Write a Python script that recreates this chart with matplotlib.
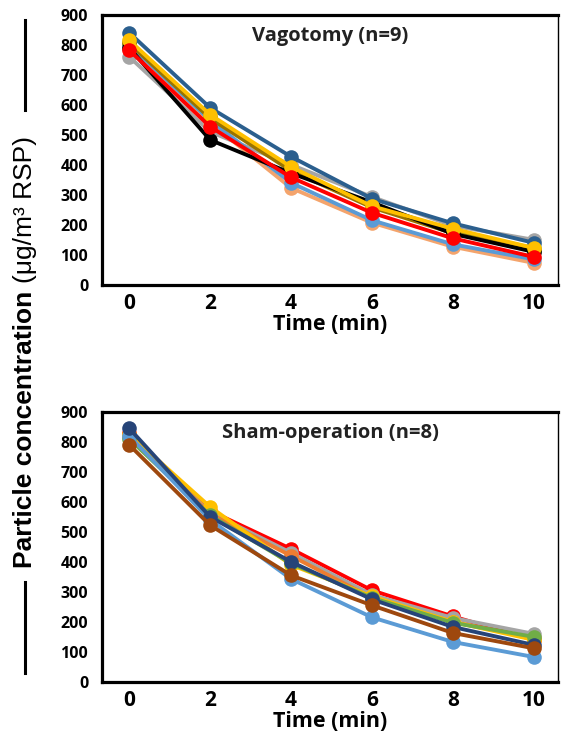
import matplotlib
matplotlib.use("Agg")
import matplotlib.pyplot as plt
from matplotlib.lines import Line2D

plt.rcParams["font.family"] = ["Open Sans", "DejaVu Sans"]

time_min = [0, 2, 4, 6, 8, 10]
y_ticks = [0, 100, 200, 300, 400, 500, 600, 700, 800, 900]

# Vagotomy group, one list per animal (drawing order bottom -> top)
vag_colors = ["#A5A5A5", "#F4A46C", "#5B9BD5", "#70AD47", "#997300", "#000000", "#2B5F8E", "#FFC000", "#FF0000"]
vag_gray = [760, 510, 400, 293, 197, 150]
vag_orange = [795, 540, 323, 207, 127, 73]
vag_lightblue = [800, 548, 340, 215, 135, 85]
vag_green = [810, 560, 385, 265, 182, 122]
vag_olive = [805, 555, 380, 258, 172, 115]
vag_black = [790, 483, 372, 275, 170, 110]
vag_darkblue = [840, 590, 427, 287, 205, 140]
vag_gold = [815, 567, 393, 262, 187, 123]
vag_red = [782, 527, 358, 240, 155, 93]
vag_series = [vag_gray, vag_orange, vag_lightblue, vag_green, vag_olive,
              vag_black, vag_darkblue, vag_gold, vag_red]

# Sham-operation group
sham_colors = ["#FF0000", "#A5A5A5", "#ED7D31", "#FFC000", "#70AD47", "#5B9BD5", "#264478", "#9E480E"]
sham_red = [830, 570, 443, 305, 218, 140]
sham_gray = [815, 565, 430, 290, 213, 160]
sham_orange = [820, 560, 420, 280, 200, 145]
sham_gold = [825, 583, 390, 285, 200, 140]
sham_green = [810, 555, 395, 280, 197, 150]
sham_lightblue = [820, 540, 343, 215, 133, 83]
sham_darkblue = [845, 550, 400, 275, 183, 123]
sham_brown = [790, 522, 355, 255, 163, 112]
sham_series = [sham_red, sham_gray, sham_orange, sham_gold, sham_green,
               sham_lightblue, sham_darkblue, sham_brown]


def draw_panel(ax, series, colors, title):
    for vals, col in zip(series, colors):
        ax.plot(time_min, vals, color=col, lw=2.8, marker="o", ms=10.5,
                mec=col, mew=0, solid_capstyle="round")
    ax.set_xlim(-0.67, 10.6)
    ax.set_ylim(0, 900)
    ax.set_xticks(time_min)
    ax.set_yticks(y_ticks)
    ax.tick_params(axis="x", length=0, pad=6, labelsize=15)
    ax.tick_params(axis="y", length=0, pad=10, labelsize=11.5)
    for lab in ax.get_xticklabels() + ax.get_yticklabels():
        lab.set_fontweight("bold")
    ax.set_xlabel("Time (min)", fontsize=15.5, fontweight="bold", labelpad=0)
    for side in ["left", "bottom", "top"]:
        ax.spines[side].set_linewidth(2.3)
    ax.spines["right"].set_linewidth(1.0)
    ax.text(0.5, 0.92, title, transform=ax.transAxes, ha="center", va="center",
            fontsize=14.5, fontweight="bold", color="#222222")


fig = plt.figure(figsize=(5.61, 7.38), dpi=100)
ax1 = fig.add_axes([0.182, 0.614, 0.813, 0.366])
ax2 = fig.add_axes([0.182, 0.076, 0.813, 0.366])
draw_panel(ax1, vag_series, vag_colors, "Vagotomy (n=9)")
draw_panel(ax2, sham_series, sham_colors, "Sham-operation (n=8)")

# shared y label: bold name + normal-weight unit, stacked bottom to top
lab_x = 25 / 561
fig.canvas.draw()
renderer = fig.canvas.get_renderer()
t1 = fig.text(lab_x, 1 - 568 / 738, "Particle concentration ", rotation=90,
              ha="center", va="bottom", fontsize=19, fontweight="bold",
              family="Liberation Sans")
bb = t1.get_window_extent(renderer)
y_next = bb.y1 / fig.bbox.height
fig.text(lab_x, y_next, "(\u03bcg/m\u00b3 RSP)", rotation=90,
         ha="center", va="bottom", fontsize=19, family="Liberation Sans")

fig.add_artist(Line2D([lab_x, lab_x], [1 - 20 / 738, 1 - 110 / 738], color="black", lw=2.2))
fig.add_artist(Line2D([lab_x, lab_x], [1 - 582 / 738, 1 - 673 / 738], color="black", lw=2.2))

fig.savefig("out.png", dpi=100)
